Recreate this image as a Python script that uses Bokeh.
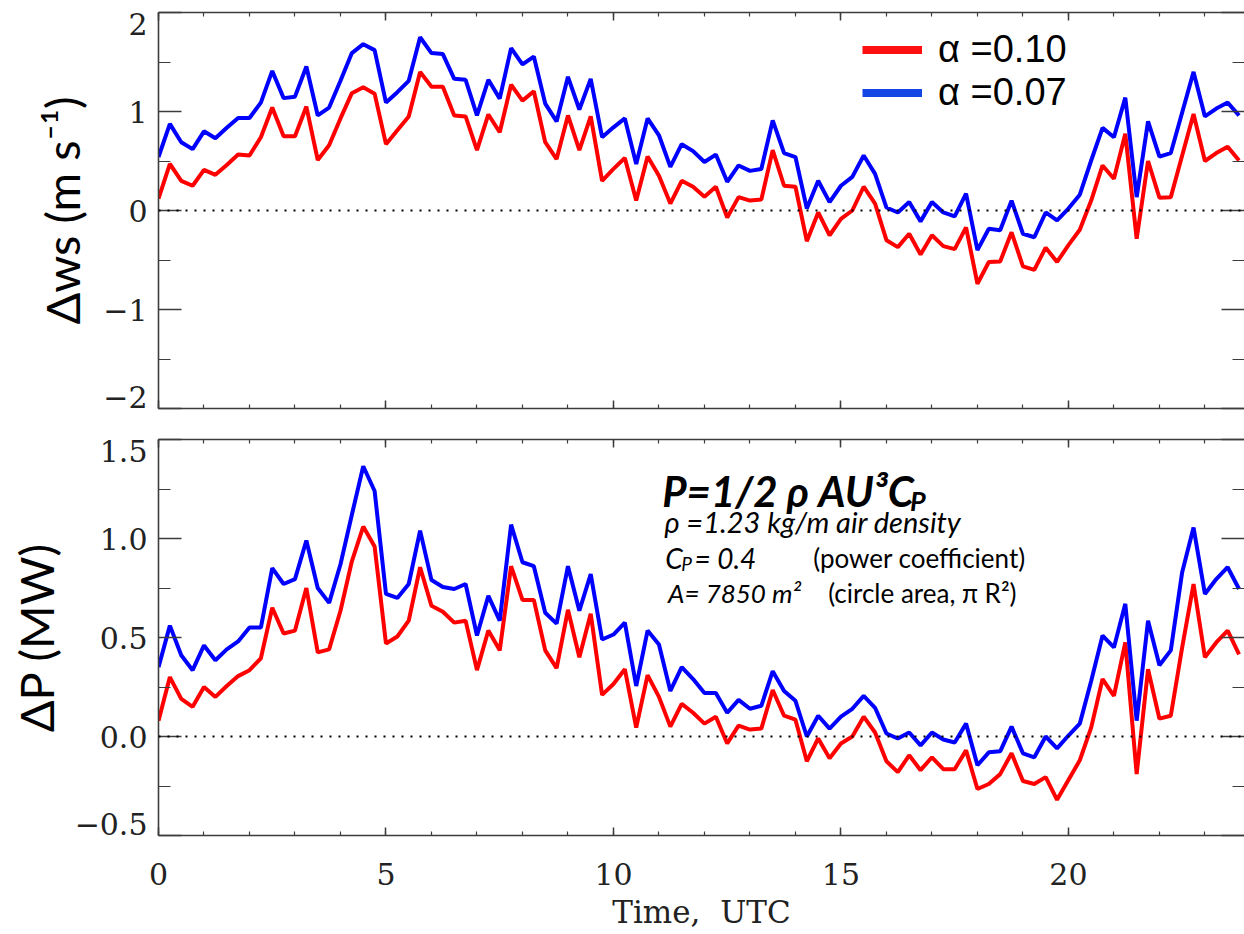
import numpy as np
from bokeh.plotting import figure
from bokeh.layouts import column
from bokeh.models import (Range1d, LinearAxis, FixedTicker, CustomJSTickFormatter,
                          Label, Legend, LegendItem, Span, Grid)
from bokeh.embed import file_html
from bokeh.resources import INLINE

# ---------------------------------------------------------------- data
# 15-minute samples over one day (UTC hours)
time_utc = np.arange(96) * 0.25

# wind-speed change (m/s) for two shear exponents
dws_alpha010 = [
    0.12, 0.47, 0.30, 0.25, 0.41, 0.36, 0.46, 0.565, 0.555, 0.74,
    1.04, 0.75, 0.75, 1.05, 0.51, 0.66, 0.93, 1.185, 1.245, 1.18,
    0.67, 0.81, 0.95, 1.40, 1.25, 1.25, 0.96, 0.95, 0.61, 0.97,
    0.79, 1.27, 1.11, 1.205, 0.69, 0.52, 0.96, 0.61, 0.95, 0.30,
    0.42, 0.53, 0.10, 0.545, 0.35, 0.07, 0.30, 0.24, 0.14, 0.24,
    -0.07, 0.135, 0.10, 0.11, 0.61, 0.25, 0.24, -0.31, -0.02, -0.25,
    -0.085, 0.0, 0.24, 0.07, -0.30, -0.37, -0.235, -0.445, -0.25, -0.36,
    -0.39, -0.17, -0.74, -0.52, -0.515, -0.22, -0.565, -0.60, -0.375, -0.52,
    -0.35, -0.195, 0.10, 0.455, 0.32, 0.775, -0.285, 0.50, 0.13, 0.135,
    0.555, 0.975, 0.50, 0.58, 0.645, 0.505,
]
dws_alpha007 = [
    0.54, 0.875, 0.69, 0.62, 0.80, 0.73, 0.835, 0.935, 0.935, 1.09,
    1.41, 1.135, 1.15, 1.455, 0.96, 1.04, 1.31, 1.59, 1.68, 1.62,
    1.09, 1.195, 1.31, 1.75, 1.59, 1.58, 1.33, 1.32, 0.96, 1.32,
    1.13, 1.64, 1.475, 1.555, 1.08, 0.90, 1.35, 1.02, 1.33, 0.74,
    0.84, 0.93, 0.47, 0.93, 0.76, 0.44, 0.67, 0.60, 0.49, 0.565,
    0.29, 0.455, 0.40, 0.42, 0.91, 0.58, 0.54, 0.02, 0.30, 0.085,
    0.25, 0.34, 0.555, 0.37, 0.03, -0.02, 0.085, -0.11, 0.085, -0.02,
    -0.06, 0.17, -0.40, -0.185, -0.20, 0.10, -0.235, -0.27, -0.02, -0.10,
    0.02, 0.16, 0.505, 0.835, 0.74, 1.14, 0.135, 0.90, 0.545, 0.58,
    0.99, 1.40, 0.95, 1.03, 1.09, 0.96,
]

# power change (MW)
dp_alpha010 = [
    0.08, 0.30, 0.19, 0.15, 0.25, 0.20, 0.255, 0.305, 0.335, 0.395,
    0.65, 0.52, 0.535, 0.75, 0.425, 0.44, 0.635, 0.885, 1.06, 0.96,
    0.47, 0.505, 0.585, 0.855, 0.66, 0.63, 0.575, 0.585, 0.335, 0.535,
    0.435, 0.86, 0.69, 0.69, 0.435, 0.345, 0.64, 0.40, 0.62, 0.21,
    0.265, 0.34, 0.045, 0.31, 0.20, 0.05, 0.165, 0.12, 0.065, 0.10,
    -0.035, 0.055, 0.035, 0.04, 0.235, 0.105, 0.085, -0.125, -0.01, -0.11,
    -0.035, 0.0, 0.10, 0.02, -0.125, -0.18, -0.095, -0.17, -0.105, -0.165,
    -0.165, -0.07, -0.265, -0.24, -0.19, -0.085, -0.225, -0.24, -0.205, -0.32,
    -0.22, -0.12, 0.045, 0.29, 0.205, 0.475, -0.19, 0.34, 0.09, 0.105,
    0.45, 0.77, 0.40, 0.475, 0.535, 0.415,
]
dp_alpha007 = [
    0.35, 0.56, 0.41, 0.335, 0.46, 0.385, 0.44, 0.48, 0.55, 0.55,
    0.85, 0.77, 0.795, 0.99, 0.75, 0.675, 0.87, 1.12, 1.365, 1.24,
    0.72, 0.70, 0.77, 1.04, 0.79, 0.755, 0.745, 0.77, 0.51, 0.71,
    0.585, 1.07, 0.88, 0.86, 0.625, 0.57, 0.86, 0.635, 0.82, 0.49,
    0.515, 0.575, 0.255, 0.535, 0.465, 0.23, 0.35, 0.29, 0.22, 0.22,
    0.12, 0.185, 0.14, 0.155, 0.33, 0.23, 0.18, 0.0, 0.105, 0.04,
    0.10, 0.14, 0.205, 0.145, 0.015, -0.01, 0.02, -0.045, 0.02, -0.015,
    -0.03, 0.065, -0.145, -0.08, -0.075, 0.05, -0.085, -0.105, 0.0, -0.06,
    0.005, 0.065, 0.28, 0.51, 0.45, 0.67, 0.08, 0.585, 0.36, 0.435,
    0.83, 1.055, 0.72, 0.795, 0.855, 0.745,
]

legend_labels = ["\u03b1 =0.10", "\u03b1 =0.07"]

x_ticks = [0, 5, 10, 15, 20]
x_minor = list(range(0, 25))
ws_ticks = [-2, -1, 0, 1, 2]
ws_minor = [-2, -1.5, -1, -0.5, 0, 0.5, 1, 1.5, 2]
dp_ticks = [-0.5, 0.0, 0.5, 1.0, 1.5]
dp_minor = [-0.5, -0.25, 0, 0.25, 0.5, 0.75, 1.0, 1.25, 1.5]

# ---------------------------------------------------------------- styling
RED = "#ff0000"
BLUE = "#0000ff"
AXIS_COLOR = "#3c3c3c"
TICK_TEXT = "#222222"
SERIF = "DejaVu Serif"
SANS = "Lato"
X_END = 23.87
END_INSET = 0.029   # end tick labels sit this fraction of the span inside the frame

fmt_x = CustomJSTickFormatter(code="return tick.toFixed(0);")
fmt_none = CustomJSTickFormatter(code="return '';")


def tick_text(v, digits):
    s = f"{abs(v):.{digits}f}"
    return ("\u2212" + s) if v < 0 else s


def add_axis(p, side, ticks, minor, major_len, minor_len, formatter=None):
    ax = LinearAxis(ticker=FixedTicker(ticks=ticks, minor_ticks=minor))
    ax.major_tick_in = major_len
    ax.major_tick_out = 0
    ax.minor_tick_in = minor_len
    ax.minor_tick_out = 0
    ax.major_tick_line_color = AXIS_COLOR
    ax.minor_tick_line_color = AXIS_COLOR
    ax.major_tick_line_width = 1.5
    ax.minor_tick_line_width = 1.2
    ax.axis_line_color = AXIS_COLOR
    ax.axis_line_width = 1.6
    if formatter is None:
        ax.formatter = fmt_none
        ax.major_label_text_font_size = "0px"
        ax.major_label_standoff = 0
    else:
        ax.formatter = formatter
        ax.major_label_text_font = SERIF
        ax.major_label_text_font_size = "30px"
        ax.major_label_text_color = TICK_TEXT
    p.add_layout(ax, side)
    return ax


def add_value_labels(p, ticks, digits, title, title_standoff):
    """Left-hand numbers on their own tick-less axis; the two end values are
    nudged inside the frame so they do not hang over its edges."""
    lo, hi = ticks[0], ticks[-1]
    inset = (hi - lo) * END_INSET
    pos = [lo + inset] + list(ticks[1:-1]) + [hi - inset]
    txt = [tick_text(v, digits) for v in ticks]
    fmt = CustomJSTickFormatter(args=dict(pos=pos, txt=txt), code="""
        for (let i = 0; i < pos.length; i++) {
            if (Math.abs(pos[i] - tick) < 1e-9) return txt[i];
        }
        return '';
    """)
    ax = LinearAxis(ticker=FixedTicker(ticks=pos, minor_ticks=[]), formatter=fmt)
    ax.major_tick_in = 0
    ax.major_tick_out = 0
    ax.minor_tick_in = 0
    ax.minor_tick_out = 0
    ax.axis_line_color = None
    ax.major_tick_line_color = None
    ax.major_label_text_font = SERIF
    ax.major_label_text_font_size = "30px"
    ax.major_label_text_color = TICK_TEXT
    ax.major_label_standoff = 11
    ax.axis_label = title
    ax.axis_label_text_font = SANS
    ax.axis_label_text_font_style = "normal"
    ax.axis_label_text_font_size = "47px"
    ax.axis_label_text_color = "black"
    ax.axis_label_standoff = title_standoff
    p.add_layout(ax, "left")
    return ax


def make_panel(y_range, border_top, border_bottom):
    p = figure(width=1244, frame_height=396,
               x_range=Range1d(0, X_END), y_range=y_range,
               x_axis_location=None, y_axis_location=None,
               output_backend="svg", toolbar_location=None,
               min_border_left=158, min_border_right=0,
               min_border_top=border_top, min_border_bottom=border_bottom,
               background_fill_color="white", border_fill_color="white")
    p.outline_line_color = None
    for r in list(p.center):
        if isinstance(r, Grid):
            r.visible = False
    p.add_layout(Span(location=0, dimension="width", line_color="black",
                      line_width=2.2, line_dash="2 7"))
    return p


# ---------------------------------------------------------------- top: wind speed
p1 = make_panel(Range1d(ws_ticks[0], ws_ticks[-1]), 12, 17)
add_axis(p1, "left", ws_ticks, ws_minor, 23, 12)
add_value_labels(p1, ws_ticks, 0, "\u0394ws (m s\u207b\u00b9)", 10)
add_axis(p1, "below", x_ticks, x_minor, 8, 4)
add_axis(p1, "above", x_ticks, x_minor, 8, 4)
right1 = add_axis(p1, "right", ws_ticks, ws_minor, 23, 12)
right1.axis_line_color = None

p1.line(time_utc, dws_alpha010, line_color=RED, line_width=4)
p1.line(time_utc, dws_alpha007, line_color=BLUE, line_width=4)

# thicker stand-ins for the legend swatches (a single gap point, nothing drawn in the frame)
leg_red = p1.line([np.nan], [np.nan], line_color="#ff1010", line_width=8)
leg_blue = p1.line([np.nan], [np.nan], line_color="#1446e6", line_width=8)
legend = Legend(items=[LegendItem(label=legend_labels[0], renderers=[leg_red]),
                       LegendItem(label=legend_labels[1], renderers=[leg_blue])],
                location=(704, 294), orientation="vertical",
                glyph_width=60, glyph_height=43, label_height=43,
                label_standoff=16, spacing=0, padding=0, margin=0,
                label_text_font="Liberation Sans", label_text_font_size="38px",
                label_text_color="black",
                border_line_color=None, background_fill_alpha=0)
p1.add_layout(legend)

# ---------------------------------------------------------------- bottom: power
p2 = make_panel(Range1d(dp_ticks[0], dp_ticks[-1]), 14, 95)
add_axis(p2, "left", dp_ticks, dp_minor, 23, 12)
add_value_labels(p2, dp_ticks, 1, "\u0394P (MW)", 8)
axb = add_axis(p2, "below", x_ticks, x_minor, 8, 4, fmt_x)
axb.major_label_standoff = 27
axb.axis_label = "Time,\u00a0\u00a0UTC"
axb.axis_label_text_font = SERIF
axb.axis_label_text_font_style = "normal"
axb.axis_label_text_font_size = "31px"
axb.axis_label_text_color = TICK_TEXT
axb.axis_label_standoff = 6
add_axis(p2, "above", x_ticks, x_minor, 8, 4)
right2 = add_axis(p2, "right", dp_ticks, dp_minor, 23, 12)
right2.axis_line_color = None

p2.line(time_utc, dp_alpha010, line_color=RED, line_width=4)
p2.line(time_utc, dp_alpha007, line_color=BLUE, line_width=4)

# formula box: (text, x [h], y [MW], size, style)
formula_parts = [
    ("P=1/2 \u03c1 AU\u00b3C", 11.07, 1.239, "42px", "bold italic"),
    ("P", 16.52, 1.19, "27px", "bold italic"),
    (" \u03c1 =1.23 kg/m air density", 11.12, 1.088, "29px", "italic"),
    ("C", 11.14, 0.901, "28px", "italic"),
    ("P", 11.49, 0.874, "19px", "italic"),
    ("= 0.4", 11.78, 0.901, "28px", "italic"),
    ("(power coefficient)", 14.39, 0.901, "26px", "normal"),
    ("A= 7850 m\u00b2", 11.20, 0.725, "26px", "italic"),
    ("(circle area, \u03c0 R\u00b2)", 14.72, 0.725, "26px", "normal"),
]
for txt, fx, fy, size, style in formula_parts:
    p2.add_layout(Label(x=fx, y=fy, text=txt, text_font=SANS, text_font_size=size,
                        text_font_style=style, text_color="black",
                        text_align="left", text_baseline="alphabetic"))

layout = column(p1, p2, spacing=0)
open("out.html", "w").write(file_html(layout, INLINE))
